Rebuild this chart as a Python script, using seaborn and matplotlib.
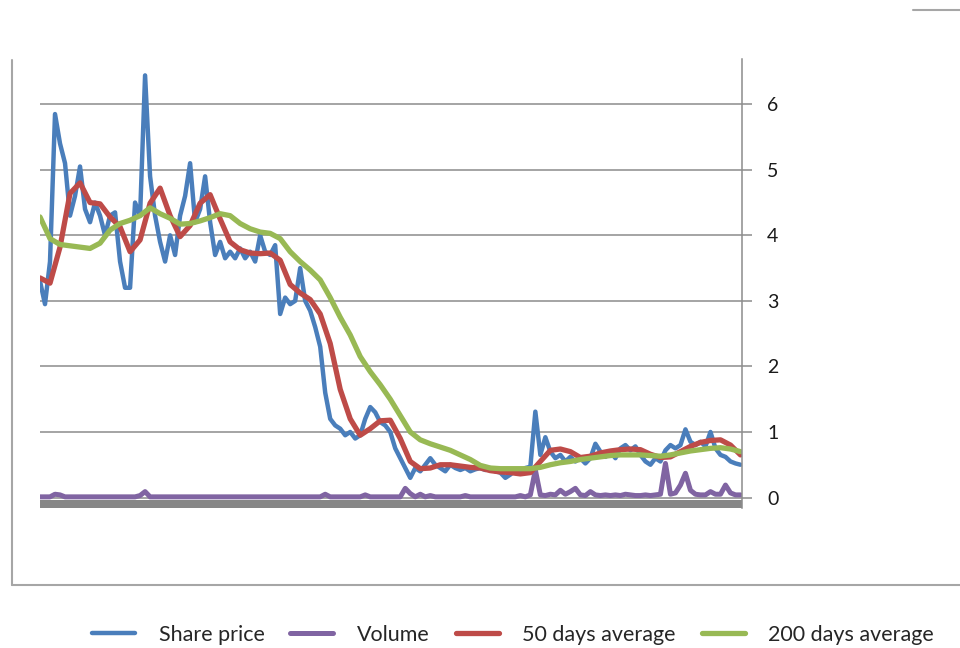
import numpy as np
import pandas as pd
import matplotlib
matplotlib.use("Agg")
import matplotlib.pyplot as plt
from matplotlib.lines import Line2D
import seaborn as sns

sns.set_style("white")
plt.rcParams['font.family'] = ['Lato', 'DejaVu Sans']

# share price, one reading every 5 px of the reference (141 points)
share_price = [
    3.3, 2.95, 3.6, 5.85, 5.4, 5.1, 4.3, 4.6, 5.05, 4.4,
    4.2, 4.5, 4.3, 4.0, 4.3, 4.35, 3.6, 3.2, 3.2, 4.5,
    4.3, 6.44, 4.9, 4.3, 3.9, 3.6, 4.0, 3.7, 4.3, 4.6,
    5.1, 4.2, 4.4, 4.9, 4.2, 3.7, 3.9, 3.65, 3.75, 3.65,
    3.8, 3.65, 3.75, 3.6, 4.0, 3.75, 3.7, 3.85, 2.8, 3.05,
    2.95, 3.0, 3.5, 3.0, 2.85, 2.6, 2.3, 1.6, 1.2, 1.1,
    1.05, 0.95, 1.0, 0.9, 0.95, 1.2, 1.38, 1.3, 1.15, 1.1,
    1.0, 0.75, 0.6, 0.45, 0.3, 0.45, 0.4, 0.5, 0.6, 0.5,
    0.45, 0.4, 0.5, 0.45, 0.42, 0.45, 0.4, 0.43, 0.45, 0.42,
    0.45, 0.4, 0.38, 0.3, 0.35, 0.42, 0.4, 0.45, 0.47, 1.31,
    0.65, 0.92, 0.7, 0.6, 0.65, 0.55, 0.62, 0.55, 0.6, 0.52,
    0.6, 0.82, 0.7, 0.62, 0.7, 0.6, 0.75, 0.8, 0.72, 0.78,
    0.65, 0.55, 0.5, 0.6, 0.55, 0.72, 0.8, 0.75, 0.8, 1.04,
    0.85, 0.8, 0.85, 0.78, 1.0, 0.75, 0.65, 0.62, 0.55, 0.52,
    0.5,
]

volume = [
    0.01, 0.01, 0.01, 0.05, 0.04, 0.01, 0.01, 0.01, 0.01, 0.01,
    0.01, 0.01, 0.01, 0.01, 0.01, 0.01, 0.01, 0.01, 0.01, 0.01,
    0.03, 0.09, 0.01, 0.01, 0.01, 0.01, 0.01, 0.01, 0.01, 0.01,
    0.01, 0.01, 0.01, 0.01, 0.01, 0.01, 0.01, 0.01, 0.01, 0.01,
    0.01, 0.01, 0.01, 0.01, 0.01, 0.01, 0.01, 0.01, 0.01, 0.01,
    0.01, 0.01, 0.01, 0.01, 0.01, 0.01, 0.01, 0.05, 0.01, 0.01,
    0.01, 0.01, 0.01, 0.01, 0.01, 0.04, 0.01, 0.01, 0.01, 0.01,
    0.01, 0.01, 0.01, 0.14, 0.06, 0.01, 0.05, 0.01, 0.03, 0.01,
    0.01, 0.01, 0.01, 0.01, 0.01, 0.03, 0.01, 0.01, 0.01, 0.01,
    0.01, 0.01, 0.01, 0.01, 0.01, 0.01, 0.03, 0.01, 0.04, 0.42,
    0.04, 0.03, 0.05, 0.04, 0.11, 0.05, 0.09, 0.14, 0.04, 0.03,
    0.09, 0.04, 0.03, 0.04, 0.03, 0.04, 0.03, 0.05, 0.04, 0.03,
    0.03, 0.04, 0.03, 0.04, 0.05, 0.52, 0.05, 0.07, 0.19, 0.37,
    0.11, 0.05, 0.04, 0.04, 0.09, 0.05, 0.05, 0.19, 0.07, 0.04,
    0.04,
]

# moving averages, one reading every 10 px (71 points)
avg_50 = [
    3.35, 3.27, 3.82, 4.64, 4.8, 4.5, 4.48, 4.28, 4.13, 3.75,
    3.93, 4.49, 4.72, 4.3, 3.98, 4.15, 4.49, 4.62, 4.25, 3.9,
    3.78, 3.73, 3.72, 3.73, 3.62, 3.25, 3.12, 3.02, 2.8, 2.35,
    1.65, 1.2, 0.95, 1.05, 1.17, 1.18, 0.9, 0.55, 0.44, 0.45,
    0.5, 0.5, 0.48, 0.46, 0.45, 0.41, 0.39, 0.38, 0.36, 0.38,
    0.55, 0.72, 0.74, 0.7, 0.61, 0.63, 0.68, 0.71, 0.73, 0.74,
    0.73, 0.66, 0.61, 0.62, 0.7, 0.78, 0.84, 0.87, 0.88, 0.8,
    0.65,
]

avg_200 = [
    4.28, 3.95, 3.86, 3.84, 3.82, 3.8, 3.88, 4.08, 4.18, 4.23,
    4.3, 4.42, 4.33, 4.26, 4.17, 4.18, 4.22, 4.27, 4.33, 4.3,
    4.18, 4.1, 4.05, 4.03, 3.95, 3.75, 3.6, 3.47, 3.32, 3.05,
    2.75, 2.48, 2.15, 1.92, 1.72, 1.5, 1.25, 1.0, 0.88, 0.82,
    0.77, 0.72, 0.65, 0.58, 0.49, 0.45, 0.44, 0.44, 0.44, 0.44,
    0.46, 0.5, 0.53, 0.55, 0.58, 0.6, 0.62, 0.64, 0.65, 0.65,
    0.65, 0.64, 0.63, 0.65, 0.68, 0.71, 0.73, 0.75, 0.76, 0.74,
    0.7,
]

labels = ["Share price", "Volume", "50 days average", "200 days average"]
colors = ["#4A7EBB", "#8064A2", "#BE4B48", "#98B954"]

days = np.arange(len(share_price))
daily = pd.DataFrame({"day": days, "price": share_price, "volume": volume})
slow = pd.DataFrame({"day": days[::2], "a50": avg_50, "a200": avg_200})

fig = plt.figure(figsize=(9.6, 6.48), dpi=100)
ax = fig.add_axes([40 / 960, 1 - 508 / 648, 702 / 960, 449 / 648])

line_kw = dict(estimator=None, solid_capstyle="round", solid_joinstyle="round")
sns.lineplot(data=daily, x="day", y="price", ax=ax, color=colors[0], lw=3.2,
             label=labels[0], **line_kw)
sns.lineplot(data=daily, x="day", y="volume", ax=ax, color=colors[1], lw=3.6,
             label=labels[1], **line_kw)
sns.lineplot(data=slow, x="day", y="a50", ax=ax, color=colors[2], lw=3.8,
             label=labels[2], **line_kw)
sns.lineplot(data=slow, x="day", y="a200", ax=ax, color=colors[3], lw=3.8,
             label=labels[3], **line_kw)

# dark axis band under the zero line
ax.axhspan(-0.16, -0.035, color="#878787", lw=0, zorder=1)

ax.set_xlim(0, 140.3)
ax.set_ylim(-0.16, 6.69)
ax.set_yticks(range(0, 7))
ax.yaxis.tick_right()
ax.set_xticks([])
ax.set_xlabel("")
ax.set_ylabel("")
ax.grid(axis="y", color="#8c8c8c", lw=1.1)
ax.set_axisbelow(True)
for side in ["left", "top", "bottom"]:
    ax.spines[side].set_visible(False)
ax.spines["right"].set_color("#8c8c8c")
ax.spines["right"].set_linewidth(1.1)
ax.tick_params(axis="y", length=7, width=1.1, color="#8c8c8c", pad=11,
               labelsize=14, labelcolor="#1a1a1a")

handles, _ = ax.get_legend_handles_labels()
ax.get_legend().remove()
fig.legend(handles, labels, loc="center", bbox_to_anchor=(513 / 960, 1 - 635 / 648),
           ncol=4, frameon=False, fontsize=15.5, handlelength=2.0,
           handletextpad=1.1, columnspacing=1.2)

# chart border pieces
border = "#a6a6a6"
fig.add_artist(Line2D([12 / 960, 12 / 960], [1 - 60 / 648, 1 - 585 / 648], color=border, lw=1.5))
fig.add_artist(Line2D([12 / 960, 1], [1 - 585 / 648, 1 - 585 / 648], color=border, lw=1.5))
fig.add_artist(Line2D([913 / 960, 1], [1 - 10 / 648, 1 - 10 / 648], color=border, lw=1.5))

fig.savefig("out.png", dpi=100)
